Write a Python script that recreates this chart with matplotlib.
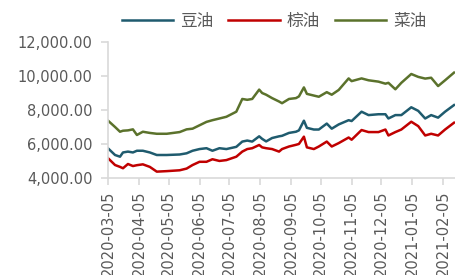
import matplotlib
matplotlib.use("Agg")
import matplotlib.pyplot as plt
import matplotlib.dates as mdates
from matplotlib.ticker import FuncFormatter
import pandas as pd

dates = [
    "2020-03-05", "2020-03-12", "2020-03-17", "2020-03-20", "2020-03-25",
    "2020-03-30", "2020-04-03", "2020-04-09", "2020-04-16", "2020-04-23",
    "2020-05-03", "2020-05-16", "2020-05-23", "2020-05-29", "2020-06-05",
    "2020-06-12", "2020-06-18", "2020-06-25", "2020-07-02", "2020-07-12",
    "2020-07-18", "2020-07-23", "2020-07-28", "2020-08-04", "2020-08-07",
    "2020-08-11", "2020-08-17", "2020-08-24", "2020-08-27", "2020-09-03",
    "2020-09-10", "2020-09-13", "2020-09-18", "2020-09-21", "2020-09-28",
    "2020-10-03", "2020-10-11", "2020-10-16", "2020-10-23", "2020-11-02",
    "2020-11-05", "2020-11-15", "2020-11-22", "2020-12-02", "2020-12-09",
    "2020-12-12", "2020-12-19", "2020-12-25", "2021-01-04", "2021-01-11",
    "2021-01-18", "2021-01-24", "2021-01-31", "2021-02-07", "2021-02-16",
]

soy_oil = [
    5740, 5350, 5250, 5500, 5550, 5500, 5600, 5600, 5500, 5350,
    5350, 5380, 5450, 5600, 5700, 5750, 5600, 5750, 5700, 5830,
    6140, 6200, 6140, 6450, 6300, 6150, 6350, 6450, 6480, 6650,
    6720, 6800, 7370, 6950, 6850, 6850, 7200, 6900, 7150, 7400,
    7350, 7900, 7700, 7750, 7750, 7500, 7700, 7700, 8160, 7950,
    7500, 7700, 7550, 7900, 8290,
]

palm_oil = [
    5160, 4760, 4650, 4570, 4820, 4700, 4750, 4800, 4650, 4370,
    4400, 4450, 4550, 4760, 4950, 4950, 5100, 5000, 5050, 5250,
    5550, 5700, 5750, 5940, 5800, 5750, 5700, 5550, 5700, 5850,
    5950, 6000, 6430, 5800, 5700, 5850, 6140, 5850, 6050, 6380,
    6250, 6820, 6700, 6700, 6850, 6500, 6700, 6850, 7310, 7050,
    6500, 6600, 6500, 6850, 7250,
]

rapeseed_oil = [
    7370, 7000, 6720, 6780, 6800, 6860, 6530, 6720, 6650, 6600,
    6600, 6700, 6860, 6900, 7100, 7300, 7400, 7500, 7600, 7900,
    8650, 8600, 8650, 9200, 9000, 8900, 8700, 8500, 8400, 8650,
    8700, 8800, 9330, 8950, 8850, 8780, 9050, 8900, 9180, 9860,
    9700, 9860, 9750, 9670, 9550, 9600, 9220, 9600, 10120, 9950,
    9850, 9900, 9410, 9750, 10200,
]

tick_dates = [
    "2020-03-05", "2020-04-05", "2020-05-05", "2020-06-05", "2020-07-05",
    "2020-08-05", "2020-09-05", "2020-10-05", "2020-11-05", "2020-12-05",
    "2021-01-05", "2021-02-05",
]

x = pd.to_datetime(dates)
gray = "#595959"
axis_gray = "#D9D9D9"

fig = plt.figure(figsize=(4.56, 2.75), dpi=100)
ax = fig.add_axes([0.237, 0.353, 0.763, 0.494])

ax.plot(x, soy_oil, color="#1F5B6E", lw=1.8, label="豆油")
ax.plot(x, palm_oil, color="#C00000", lw=1.8, label="棕油")
ax.plot(x, rapeseed_oil, color="#5B722C", lw=1.8, label="菜油")

ax.set_xlim(pd.Timestamp("2020-03-05"), pd.Timestamp("2021-02-18"))
ax.set_ylim(4000, 12000)
ax.set_yticks([4000, 6000, 8000, 10000, 12000])
ax.yaxis.set_major_formatter(FuncFormatter(lambda v, p: f"{v:,.2f}"))
ax.set_xticks(pd.to_datetime(tick_dates))
ax.xaxis.set_major_formatter(mdates.DateFormatter("%Y-%m-%d"))

for s in ["top", "right"]:
    ax.spines[s].set_visible(False)
for s in ["left", "bottom"]:
    ax.spines[s].set_color(axis_gray)
    ax.spines[s].set_linewidth(1.2)

ax.tick_params(axis="y", colors=axis_gray, labelcolor=gray, labelsize=10.5,
               length=5, width=1.2, pad=6)
ax.tick_params(axis="x", colors=axis_gray, labelcolor=gray, labelsize=10.5,
               length=5, width=1.2, pad=4, labelrotation=90)

leg = ax.legend(loc="lower center", bbox_to_anchor=(0.477, 1.04), ncol=3,
                frameon=False, handlelength=3.1, handletextpad=0.4,
                columnspacing=0.9, borderaxespad=0,
                prop={"family": ["Noto Sans CJK SC", "DejaVu Sans"], "size": 12})
for t in leg.get_texts():
    t.set_color(gray)

fig.savefig("out.png", dpi=100)
